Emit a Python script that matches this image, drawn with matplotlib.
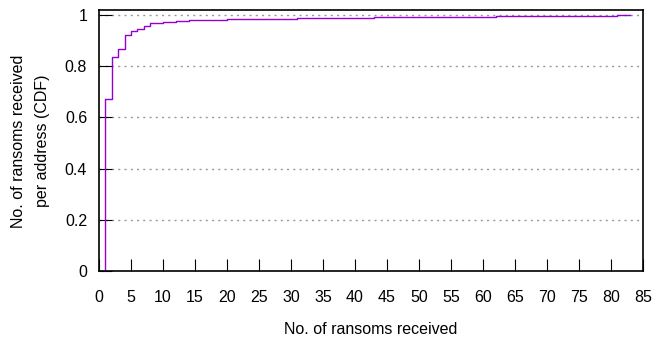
import matplotlib
matplotlib.use('Agg')
import matplotlib.pyplot as plt
import numpy as np

plt.rcParams['font.family'] = ['Liberation Sans', 'DejaVu Sans']

# ransoms received per address -> cumulative fraction
ransoms = [0, 1, 2, 3, 4, 5, 6, 7, 8, 9, 10, 11, 12, 13, 14, 16, 18, 20, 22,
           25, 28, 31, 34, 37, 40, 43, 46, 50, 54, 58, 62, 66, 70, 74, 78,
           81, 83]
cdf = [0.0, 0.67, 0.835, 0.869, 0.923, 0.938, 0.947, 0.958, 0.967, 0.969,
       0.971, 0.973, 0.975, 0.977, 0.981, 0.9815, 0.982, 0.983, 0.984,
       0.985, 0.986, 0.987, 0.988, 0.989, 0.990, 0.9905, 0.991, 0.992,
       0.993, 0.994, 0.995, 0.996, 0.997, 0.9975, 0.998, 0.999, 1.0]
xticks = list(range(0, 86, 5))
yticks = [0, 0.2, 0.4, 0.6, 0.8, 1]
ytick_labels = ['0', '0.2', '0.4', '0.6', '0.8', '1']

fig = plt.figure(figsize=(6.53, 3.42), dpi=100)
ax = fig.add_axes([99/653, 1-271/342, 544/653, 261/342])

ax.step(ransoms, cdf, where='post', color='#9400d3', lw=1)

ax.set_xlim(0, 85)
ax.set_ylim(0, 1.0195)
ax.set_xticks(xticks)
ax.set_yticks(yticks)
ax.set_yticklabels(ytick_labels)
ax.tick_params(direction='in', length=9, width=0.8, labelsize=11.5, colors='black')
ax.tick_params(axis='y', pad=8.5)
ax.tick_params(axis='x', pad=14)
ax.yaxis.grid(True, linestyle=(0, (1.5, 3)), color='#999999', lw=1)
ax.set_axisbelow(True)
for s in ax.spines.values():
    s.set_linewidth(1.2)

ax.set_xlabel('No. of ransoms received', fontsize=11.5, labelpad=12)
fig.text(30.5/653, 1-141/342, 'No. of ransoms received\nper address (CDF)',
         rotation=90, ha='center', va='center', fontsize=11.5, linespacing=1.8)

fig.savefig('out.png', dpi=100)
